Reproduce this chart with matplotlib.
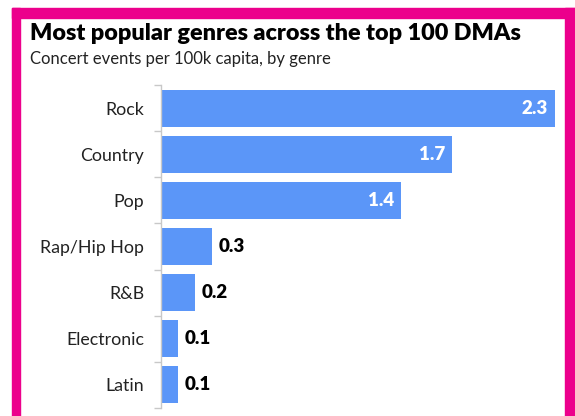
import matplotlib
matplotlib.use("Agg")
import matplotlib.pyplot as plt
from matplotlib.patches import Rectangle
import numpy as np

genres = ["Rock", "Country", "Pop", "Rap/Hip Hop", "R&B", "Electronic", "Latin"]
values = [2.3, 1.7, 1.4, 0.3, 0.2, 0.1, 0.1]
value_labels = ["2.3", "1.7", "1.4", "0.3", "0.2", "0.1", "0.1"]

W, H = 575, 416
fig = plt.figure(figsize=(W / 100, H / 100), dpi=100)
fig.patch.set_facecolor("white")

magenta = "#EC008C"
def px_rect(x0, y0, x1, y1, color):
    fig.patches.append(Rectangle((x0 / W, 1 - y1 / H), (x1 - x0) / W, (y1 - y0) / H,
                                 transform=fig.transFigure, color=color, zorder=0))
px_rect(12, 8, 575, 17.5, magenta)
px_rect(12, 8, 20, 416, magenta)
px_rect(565, 8, 575, 416, magenta)

ax_left, ax_top, ax_bottom = 161, 85, 408
xmax = 2.35
ax_right = ax_left + xmax * 171.3
ax = fig.add_axes([ax_left / W, 1 - ax_bottom / H, (ax_right - ax_left) / W, (ax_bottom - ax_top) / H])
ax.set_facecolor("none")

y = np.arange(len(genres))
bar_color = "#5B96F8"
ax.barh(y, values, height=0.8, color=bar_color, zorder=2)
ax.set_xlim(0, xmax)
ax.set_ylim(len(genres) - 0.5, -0.5)

for s in ["top", "right", "bottom"]:
    ax.spines[s].set_visible(False)
ax.spines["left"].set_color("#C8C8C8")
ax.spines["left"].set_linewidth(1.0)
ax.set_xticks([])
ax.set_yticks(y)
ax.set_yticklabels(genres, fontsize=12.8, family=["Lato", "DejaVu Sans"], color="#222222")
ax.tick_params(axis="y", which="major", length=0, pad=12)
ax.set_yticks(np.arange(-0.5, len(genres)), minor=True)
ax.tick_params(axis="y", which="minor", length=5, color="#C8C8C8", width=1.0)

for yi, v, lab in zip(y, values, value_labels):
    if v > 1:
        ax.text(v - 0.04, yi, lab, ha="right", va="center", color="white",
                fontsize=13.5, fontweight="heavy", family=["Lato", "DejaVu Sans"])
    else:
        ax.text(v + 0.035, yi, lab, ha="left", va="center", color="black",
                fontsize=13.5, fontweight="heavy", family=["Lato", "DejaVu Sans"])

fig.text(30 / W, 1 - 40.5 / H, "Most popular genres across the top 100 DMAs",
         fontsize=16.8, fontweight="heavy", family=["Lato", "DejaVu Sans"], color="black",
         ha="left", va="baseline")
fig.text(30 / W, 1 - 64 / H, "Concert events per 100k capita, by genre",
         fontsize=12, family=["Lato", "DejaVu Sans"], color="#222222",
         ha="left", va="baseline")

fig.savefig("out.png", dpi=100, facecolor="white")
